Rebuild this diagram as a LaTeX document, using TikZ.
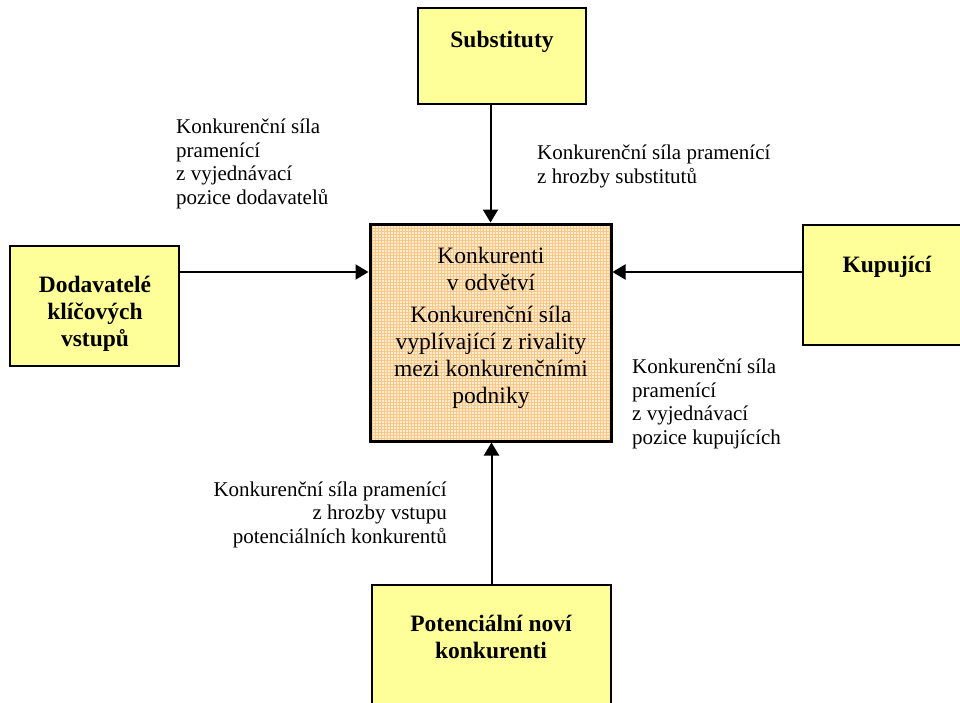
\documentclass[tikz,border=0pt]{standalone}
\usepackage{fontspec}
\setmainfont{Liberation Serif}
\usetikzlibrary{arrows.meta, patterns}
\definecolor{forceyellow}{HTML}{FFFF99}
\definecolor{rivalfill}{HTML}{FEEBD0}
\definecolor{rivalgrid}{HTML}{F8C888}

\begin{document}
\begin{tikzpicture}[x=1pt, y=-1pt,
  force/.style={draw, line width=2.5pt, fill=forceyellow, inner sep=0pt},
  rival/.style={draw, line width=3pt, inner sep=0pt, preaction={fill=rivalfill}, pattern=grid, pattern color=rivalgrid},
  forcename/.style={font=\fontsize{23.5}{27}\selectfont\bfseries, align=center, inner sep=0pt, anchor=base},
  rivaltext/.style={font=\fontsize{23.5}{27}\selectfont, align=center, inner sep=0pt, anchor=base},
  forcelabel/.style={font=\fontsize{21}{23.5}\selectfont, align=left, inner sep=0pt, anchor=base west},
  push/.style={-{Triangle[width=15pt,length=13pt]}, line width=2pt}]
\useasboundingbox (0,0) rectangle (960,702);
\clip (0,0) rectangle (960,702);
\node[force, minimum width=168pt, minimum height=96pt] (subst) at (502,56) {};
\node[force, minimum width=169pt, minimum height=120pt] (dodav) at (94.5,306) {};
\node[force, minimum width=168pt, minimum height=120pt] (kupuj) at (887,285) {};
\node[force, minimum width=239pt, minimum height=134pt] (newc) at (491.5,652) {};
\node[rival, minimum width=241pt, minimum height=217pt] (centre) at (490.5,332.5) {};
\node[forcename] (substtext) at (502,47) {Substituty};
\node[forcename] (dodavtext) at (95,346) {Dodavatelé\\klíčových\\vstupů};
\node[forcename] (kupujtext) at (887,272) {Kupující};
\node[forcename] (newctext) at (491,658) {Potenciální noví\\konkurenti};
\node[rivaltext] (centretext) at (491,403) {Konkurenti\\v odvětví\\[5pt]Konkurenční síla\\vyplívající z rivality\\mezi konkurenčními\\podniky};
\node[forcelabel] (suplab) at (176,204) {Konkurenční síla\\pramenící\\z vyjednávací\\pozice dodavatelů};
\node[forcelabel] (sublab) at (537,183) {Konkurenční síla pramenící\\z hrozby substitutů};
\node[forcelabel] (buylab) at (632,444) {Konkurenční síla\\pramenící\\z vyjednávací\\pozice kupujících};
\node[forcelabel, align=right, anchor=base east] (entlab) at (447,543) {Konkurenční síla pramenící\\z hrozby vstupu\\potenciálních konkurentů};
\coordinate (row) at (0,272);
\draw[push] (subst.south -| centre) -- (centre.north);
\draw[push] (dodav.east |- row) -- (centre.west |- row);
\draw[push] (kupuj.west |- row) -- (centre.east |- row);
\draw[push] (newc.north) -- (centre.south -| newc);
\end{tikzpicture}
\end{document}
